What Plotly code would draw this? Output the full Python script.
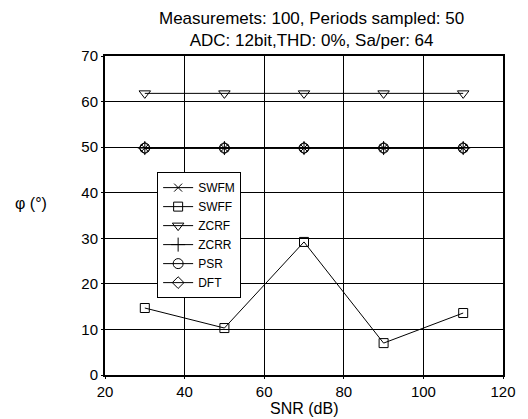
import plotly.graph_objects as go

snr = [30, 50, 70, 90, 110]
swfm = [49.8, 49.8, 49.8, 49.8, 49.8]
swff = [14.7, 10.3, 29.2, 7.0, 13.6]
zcrf = [61.8, 61.8, 61.8, 61.8, 61.8]
zcrr = [49.8, 49.8, 49.8, 49.8, 49.8]
psr = [49.8, 49.8, 49.8, 49.8, 49.8]
dft = [49.8, 49.8, 49.8, 49.8, 49.8]

names = ["SWFM", "SWFF", "ZCRF", "ZCRR", "PSR", "DFT"]
series = [swfm, swff, zcrf, zcrr, psr, dft]
symbols = ["x-thin-open", "square-open", "triangle-down-open", "cross-thin-open",
           "circle-open", "diamond-open"]
sizes = [8, 9, 10, 10, 10, 9]

# the page adds an 8px body margin, so the margins below are shifted by 8px
fig = go.Figure()
for name, ys, sym, sz in zip(names, series, symbols, sizes):
    fig.add_trace(go.Scatter(
        x=snr, y=ys, name=name, mode="lines+markers",
        line=dict(color="black", width=1),
        marker=dict(symbol=sym, size=sz, color="black", line=dict(width=1, color="black")),
    ))

ph = 319
pw = 398
fig.update_layout(
    width=528, height=419,
    margin=dict(l=97, r=33, t=48, b=52, autoexpand=False),
    paper_bgcolor="white", plot_bgcolor="white",
    font=dict(family="Liberation Sans, Arial", size=15, color="black"),
    showlegend=True,
    legend=dict(x=0.131, y=0.636, xanchor="left", yanchor="top",
                bordercolor="black", borderwidth=1, bgcolor="white",
                font=dict(size=12), tracegroupgap=0, itemwidth=30),
    annotations=[
        dict(text="Measuremets: 100, Periods sampled: 50<br>ADC: 12bit,THD: 0%, Sa/per: 64",
             xref="paper", yref="paper",
             x=(311 - 105) / pw, y=1.0 + (56 - 29.5) / ph, xanchor="center", yanchor="middle",
             showarrow=False, font=dict(size=17)),
        dict(text="φ (°)", xref="paper", yref="paper", x=(31 - 105) / pw, y=(375 - 203) / ph,
             showarrow=False, font=dict(size=16), xanchor="center", yanchor="middle"),
        dict(text="SNR (dB)", xref="paper", yref="paper", x=0.5, y=-(408 - 375) / ph,
             showarrow=False, font=dict(size=16), xanchor="center", yanchor="middle"),
    ],
)
fig.update_xaxes(range=[20, 120], dtick=20, showgrid=True, gridcolor="black", gridwidth=1,
                 showline=True, linecolor="black", linewidth=2, mirror=True, zeroline=False,
                 ticks="outside", ticklen=2, tickcolor="black", automargin=False)
fig.update_yaxes(range=[0, 70], dtick=10, showgrid=True, gridcolor="black", gridwidth=1,
                 showline=True, linecolor="black", linewidth=2, mirror=True, zeroline=False,
                 ticks="outside", ticklen=2, tickcolor="black", automargin=False)

fig.write_html("out.html")
